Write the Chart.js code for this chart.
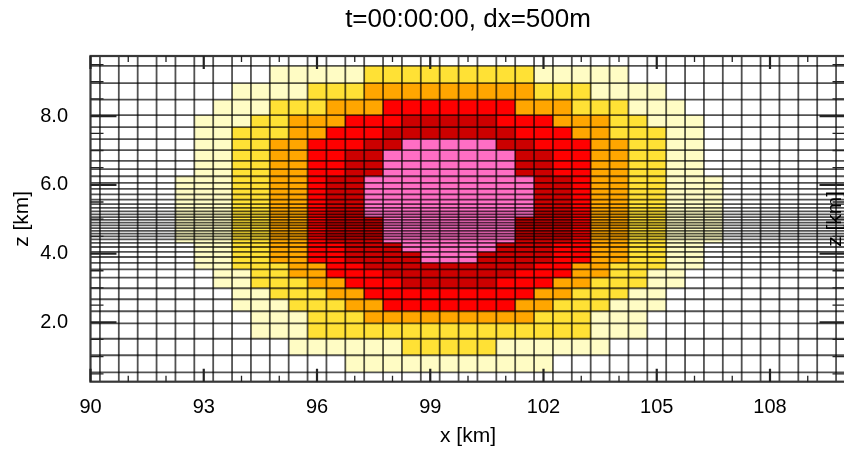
<!DOCTYPE html>
<html>
<head>
<meta charset="utf-8">
<script src="https://cdn.jsdelivr.net/npm/chart.js@4/dist/chart.umd.min.js"></script>
<style>
  html, body { margin: 0; padding: 0; background: #ffffff; overflow: hidden; }
  #wrap { width: 860px; height: 449px; }
</style>
</head>
<body>
<div id="wrap"><canvas id="c" width="860" height="449"></canvas></div>
<script>
// Column centres (km), dx = 500 m
const xCenters = [90, 90.5, 91, 91.5, 92, 92.5, 93, 93.5, 94, 94.5, 95, 95.5, 96, 96.5, 97, 97.5,
  98, 98.5, 99, 99.5, 100, 100.5, 101, 101.5, 102, 102.5, 103, 103.5, 104, 104.5, 105, 105.5,
  106, 106.5, 107, 107.5, 108, 108.5, 109, 109.5, 110];

// Layer edges (km), top to bottom; the grid is refined around z = 5 km
const zEdges = [10.0, 9.46, 8.96, 8.48, 8.03, 7.68, 7.33, 7.01, 6.70, 6.46, 6.25, 6.06, 5.88,
  5.72, 5.57, 5.44, 5.33, 5.23, 5.14, 5.06, 4.98, 4.90, 4.82, 4.74, 4.66, 4.58, 4.50, 4.41,
  4.31, 4.19, 4.05, 3.90, 3.73, 3.54, 3.30, 2.99, 2.67, 2.32, 1.97, 1.52, 1.04, 0.54, 0.0];

// Colour class of every cell, one row per layer (top to bottom), written as class*count runs
// 0 = none, 1 = light yellow, 2 = yellow, 3 = orange, 4 = red, 5 = dark red, 6 = pink
const fieldRows = [
  "0*41",
  "0*10 1*5 2*9 1*5 0*12",
  "0*8 1*4 2*3 3*9 2*3 1*4 0*10",
  "0*7 1*3 2*3 3*3 4*7 3*3 2*3 1*3 0*9",
  "0*6 1*3 2*2 3*3 4*3 5*5 4*3 3*3 2*2 1*3 0*8",
  "0*6 1*2 2*3 3*2 4*3 5*7 4*3 3*2 2*3 1*2 0*8",
  "0*6 1*2 2*2 3*2 4*3 5*2 6*5 5*2 4*3 3*2 2*2 1*2 0*8",
  "0*6 1*2 2*2 3*2 4*2 5*2 6*7 5*2 4*2 3*2 2*2 1*2 0*8",
  "0*6 1*2 2*2 3*2 4*2 5*2 6*7 5*2 4*2 3*2 2*2 1*2 0*8",
  "0*6 1*2 2*2 3*2 4*2 5*2 6*7 5*2 4*2 3*2 2*2 1*2 0*8",
  "0*5 1*3 2*2 3*2 4*1 5*2 6*9 5*2 4*1 3*2 2*2 1*3 0*7",
  "0*5 1*3 2*2 3*2 4*1 5*2 6*9 5*2 4*1 3*2 2*2 1*3 0*7",
  "0*5 1*3 2*2 3*2 4*1 5*2 6*9 5*2 4*1 3*2 2*2 1*3 0*7",
  "0*5 1*3 2*2 3*2 4*1 5*2 6*9 5*2 4*1 3*2 2*2 1*3 0*7",
  "0*5 1*3 2*2 3*2 4*1 5*2 6*9 5*2 4*1 3*2 2*2 1*3 0*7",
  "0*5 1*3 2*2 3*2 4*1 5*2 6*9 5*2 4*1 3*2 2*2 1*3 0*7",
  "0*5 1*3 2*2 3*2 4*1 5*2 6*9 5*2 4*1 3*2 2*2 1*3 0*7",
  "0*5 1*3 2*2 3*2 4*1 5*2 6*9 5*2 4*1 3*2 2*2 1*3 0*7",
  "0*5 1*3 2*2 3*2 4*1 5*2 6*9 5*2 4*1 3*2 2*2 1*3 0*7",
  "0*5 1*3 2*2 3*2 4*1 5*3 6*7 5*3 4*1 3*2 2*2 1*3 0*7",
  "0*5 1*3 2*2 3*2 4*1 5*3 6*7 5*3 4*1 3*2 2*2 1*3 0*7",
  "0*5 1*3 2*2 3*2 4*1 5*3 6*7 5*3 4*1 3*2 2*2 1*3 0*7",
  "0*5 1*3 2*2 3*2 4*1 5*3 6*7 5*3 4*1 3*2 2*2 1*3 0*7",
  "0*5 1*3 2*2 3*2 4*1 5*3 6*7 5*3 4*1 3*2 2*2 1*3 0*7",
  "0*5 1*3 2*2 3*2 4*1 5*3 6*7 5*3 4*1 3*2 2*2 1*3 0*7",
  "0*5 1*3 2*2 3*2 4*1 5*3 6*7 5*3 4*1 3*2 2*2 1*3 0*7",
  "0*5 1*3 2*2 3*2 4*1 5*3 6*7 5*3 4*1 3*2 2*2 1*3 0*7",
  "0*5 1*3 2*2 3*2 4*1 5*3 6*7 5*3 4*1 3*2 2*2 1*3 0*7",
  "0*6 1*2 2*2 3*2 4*2 5*3 6*5 5*3 4*2 3*2 2*2 1*2 0*8",
  "0*6 1*2 2*2 3*2 4*2 5*3 6*5 5*3 4*2 3*2 2*2 1*2 0*8",
  "0*6 1*2 2*2 3*2 4*2 5*4 6*3 5*4 4*2 3*2 2*2 1*2 0*8",
  "0*6 1*2 2*2 3*2 4*2 5*4 6*3 5*4 4*2 3*2 2*2 1*2 0*8",
  "0*6 1*2 2*3 3*2 4*2 5*9 4*2 3*2 2*3 1*2 0*8",
  "0*7 1*2 2*2 3*2 4*3 5*7 4*3 3*2 2*2 1*2 0*9",
  "0*7 1*2 2*3 3*2 4*3 5*5 4*3 3*2 2*3 1*2 0*9",
  "0*8 1*2 2*3 3*2 4*9 3*2 2*3 1*2 0*10",
  "0*8 1*3 2*3 3*2 4*7 3*2 2*3 1*3 0*10",
  "0*9 1*3 2*3 3*9 2*3 1*3 0*11",
  "0*9 1*3 2*15 1*3 0*11",
  "0*11 1*6 2*5 1*6 0*13",
  "0*14 1*11 0*16",
  "0*41"
];

const classColors = ["#ffffff", "#fffcc4", "#ffe135", "#ffa600", "#ff0000", "#cc0000", "#ff6ec4"];

const xTicks = [90, 93, 96, 99, 102, 105, 108];
const xMinorTicks = [91, 92, 94, 95, 97, 98, 100, 101, 103, 104, 106, 107, 109];
const zTicks = [2, 4, 6, 8];
const zMinorTicks = [0.5, 1, 1.5, 2.5, 3, 3.5, 4.5, 5, 5.5, 6.5, 7, 7.5, 8.5, 9, 9.5];

const X_MIN = 90, X_MAX = 110, Z_MIN = 0.27, Z_MAX = 9.75;
const HALF_DX = 0.25;
const FONT = "'Liberation Sans', Arial, Helvetica, sans-serif";

function expandRow(row) {
  const out = [];
  row.trim().split(/\s+/).forEach(run => {
    const [cls, n] = run.split("*").map(Number);
    for (let k = 0; k < n; k++) out.push(cls);
  });
  return out;
}

const cellGridPlugin = {
  id: "cellGrid",
  beforeDatasetsDraw(chart) {
    const { ctx, chartArea: a, scales: { x, y } } = chart;
    ctx.save();
    ctx.beginPath();
    ctx.rect(a.left, a.top, a.right - a.left, a.bottom - a.top);
    ctx.clip();

    // filled cells
    fieldRows.forEach((row, r) => {
      const cls = expandRow(row);
      const yt = Math.round(y.getPixelForValue(zEdges[r]));
      const yb = Math.round(y.getPixelForValue(zEdges[r + 1]));
      cls.forEach((c, i) => {
        const xl = Math.round(x.getPixelForValue(xCenters[i] - HALF_DX));
        const xr = Math.round(x.getPixelForValue(xCenters[i] + HALF_DX));
        ctx.fillStyle = classColors[c];
        ctx.fillRect(xl, yt, xr - xl, yb - yt);
      });
    });

    // cell outlines
    ctx.strokeStyle = "rgba(0,0,0,0.68)";
    ctx.lineWidth = 1.8;
    ctx.beginPath();
    for (let i = 0; i < xCenters.length - 1; i++) {
      const px = x.getPixelForValue(xCenters[i] + HALF_DX);
      ctx.moveTo(px, a.top);
      ctx.lineTo(px, a.bottom);
    }
    ctx.stroke();
    zEdges.forEach(z => {
      const py = y.getPixelForValue(z);
      ctx.beginPath();
      ctx.moveTo(a.left, py);
      ctx.lineTo(a.right, py);
      ctx.stroke();
    });
    ctx.restore();

    // frame
    ctx.save();
    ctx.strokeStyle = "#383838";
    ctx.lineWidth = 2.2;
    ctx.strokeRect(a.left, a.top, a.right - a.left, a.bottom - a.top);

    // inward tick marks
    ctx.strokeStyle = "#222222";
    const tickPath = (list, len, lw, horizontal) => {
      ctx.lineWidth = lw;
      ctx.beginPath();
      list.forEach(v => {
        if (horizontal) {
          const px = x.getPixelForValue(v);
          ctx.moveTo(px, a.bottom); ctx.lineTo(px, a.bottom - len);
          ctx.moveTo(px, a.top); ctx.lineTo(px, a.top + len);
        } else {
          const py = y.getPixelForValue(v);
          ctx.moveTo(a.left, py); ctx.lineTo(a.left + len, py);
          ctx.moveTo(a.right, py); ctx.lineTo(a.right - len, py);
        }
      });
      ctx.stroke();
    };
    tickPath(xTicks, 13, 2.2, true);
    tickPath(xMinorTicks, 6, 1.3, true);
    tickPath(zTicks, 26, 2.2, false);
    tickPath(zMinorTicks, 13, 1.3, false);

    // axis label repeated on the right-hand side
    ctx.fillStyle = "#000000";
    ctx.font = "21px " + FONT;
    ctx.textAlign = "center";
    ctx.textBaseline = "middle";
    ctx.translate(a.right - 10, (a.top + a.bottom) / 2);
    ctx.rotate(-Math.PI / 2);
    ctx.fillText("z [km]", 0, 0);
    ctx.restore();
  }
};

new Chart(document.getElementById("c"), {
  type: "scatter",
  data: { datasets: [{ data: [] }] },
  options: {
    responsive: false,
    animation: false,
    devicePixelRatio: 1,
    layout: { padding: { left: 0, right: 14.5, top: 0, bottom: 0 } },
    plugins: {
      legend: { display: false },
      tooltip: { enabled: false },
      title: {
        display: true,
        text: "t=00:00:00, dx=500m",
        fullSize: false,
        color: "#000000",
        font: { family: FONT, size: 26, weight: "normal" },
        padding: { top: 4.4, bottom: 20.4 }
      }
    },
    scales: {
      x: {
        type: "linear",
        position: "bottom",
        min: X_MIN,
        max: X_MAX,
        afterBuildTicks: s => { s.ticks = xTicks.map(v => ({ value: v })); },
        afterFit: s => { s.height = 67.3; },
        grid: { display: false, drawTicks: false },
        border: { display: false },
        ticks: {
          autoSkip: false, maxRotation: 0, padding: 14, color: "#000000",
          font: { family: FONT, size: 20 },
          callback: v => String(v)
        },
        title: {
          display: true, text: "x [km]", color: "#000000",
          font: { family: FONT, size: 21 }, padding: { top: 0, bottom: 0 }
        }
      },
      y: {
        type: "linear",
        position: "left",
        min: Z_MIN,
        max: Z_MAX,
        afterBuildTicks: s => { s.ticks = zTicks.map(v => ({ value: v })); },
        afterFit: s => { s.width = 90.5; },
        grid: { display: false, drawTicks: false },
        border: { display: false },
        ticks: {
          autoSkip: false, padding: 22.5, color: "#000000",
          font: { family: FONT, size: 20 },
          callback: v => Number(v).toFixed(1)
        },
        title: {
          display: true, text: "z [km]", color: "#000000",
          font: { family: FONT, size: 21 }, padding: { top: 9.4, bottom: 0 }
        }
      }
    }
  },
  plugins: [cellGridPlugin]
});
</script>
</body>
</html>
